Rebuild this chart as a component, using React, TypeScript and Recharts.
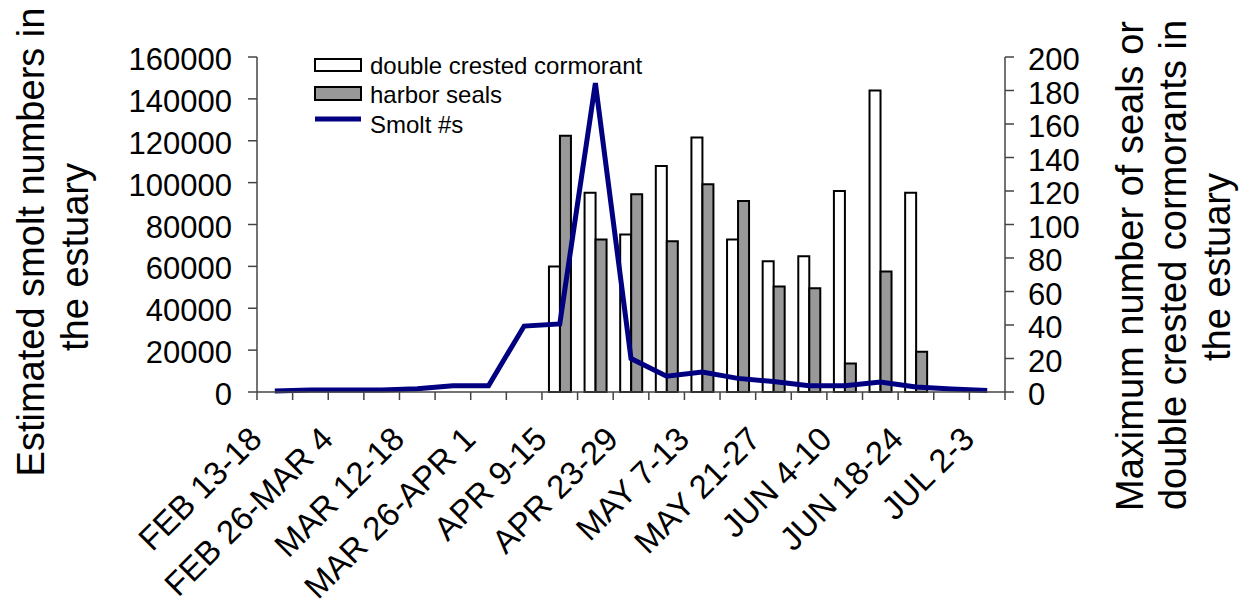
import React from 'react';
import { ComposedChart, Bar, Line, XAxis, YAxis, Legend } from 'recharts';

const WEEKS = [
  'FEB 13-18', 'FEB 19-25', 'FEB 26-MAR 4', 'MAR 5-11', 'MAR 12-18', 'MAR 19-25',
  'MAR 26-APR 1', 'APR 2-8', 'APR 9-15', 'APR 16-22', 'APR 23-29', 'APR 30-MAY 6',
  'MAY 7-13', 'MAY 14-20', 'MAY 21-27', 'MAY 28-JUN 3', 'JUN 4-10', 'JUN 11-17',
  'JUN 18-24', 'JUN 25-JUL 1', 'JUL 2-3',
];

// weekly estimate of smolts in the estuary (left axis)
const SMOLTS = [
  500, 1000, 1000, 1000, 1500, 3000, 3000, 31500, 32500, 147500, 16000,
  7500, 9500, 6500, 5000, 3000, 3000, 4800, 2400, 1400, 700,
];

// weekly maximum counts (right axis); no surveys before APR 9 or after JUN 24
const CORMORANTS = [
  null, null, null, null, null, null, null, null,
  75, 119, 94, 135, 152, 91, 78, 81, 120, 180, 119, null, null,
];
const SEALS = [
  null, null, null, null, null, null, null, null,
  153, 91, 118, 90, 124, 114, 63, 62, 17, 72, 24, null, null,
];

const SMOLT_TICKS = [0, 20000, 40000, 60000, 80000, 100000, 120000, 140000, 160000];
const COUNT_TICKS = [0, 20, 40, 60, 80, 100, 120, 140, 160, 180, 200];

const LEFT_TITLE = ['Estimated smolt numbers in', 'the estuary'];
const RIGHT_TITLE = ['Maximum number of seals or', 'double crested cormorants in', 'the estuary'];

const FONT = '"Liberation Sans", Arial, Helvetica, sans-serif';
const NAVY = '#000080';
const SEAL_GRAY = '#999999';
const AXIS = '#444444';

const data = WEEKS.map((week, i) => ({
  week,
  smolts: SMOLTS[i],
  cormorants: CORMORANTS[i],
  seals: SEALS[i],
}));

// boundary tick marks for every week, a slanted label on every other one
const WeekTick = (props: any) => {
  const { x, y, payload, index } = props;
  const half = payload?.offset ?? 748 / WEEKS.length / 2;
  const isLast = index === WEEKS.length - 1;
  const lx = x - 11;
  const ly = y + 41;
  return (
    <g>
      <line x1={x - half} x2={x - half} y1={y - 8} y2={y} stroke={AXIS} strokeWidth={1.5} />
      {isLast && (
        <line x1={x + half} x2={x + half} y1={y - 8} y2={y} stroke={AXIS} strokeWidth={1.5} />
      )}
      {index % 2 === 0 && (
        <text
          x={lx}
          y={ly}
          transform={`rotate(-45, ${lx}, ${ly})`}
          textAnchor="end"
          fontSize={33}
          fontFamily={FONT}
          fill="#000"
        >
          {payload.value}
        </text>
      )}
    </g>
  );
};

// rotated multi-line axis title; one baseline x per line
const AxisTitle = ({ lines, xs, ys }: { lines: string[]; xs: number[]; ys: number[] }) => (
  <g>
    {lines.map((t, i) => (
      <text
        key={t}
        x={xs[i]}
        y={ys[i]}
        transform={`rotate(-90, ${xs[i]}, ${ys[i]})`}
        textAnchor="middle"
        fontSize={38}
        fontFamily={FONT}
        fill="#000"
      >
        {t}
      </text>
    ))}
  </g>
);

const LegendBox = () => (
  <svg width={340} height={90} style={{ display: 'block', overflow: 'visible' }}>
    <g fontFamily={FONT} fontSize={24} fill="#000">
      <rect x={3} y={7} width={46} height={12} fill="#fff" stroke="#000" strokeWidth={2} />
      <text x={58} y={22}>double crested cormorant</text>
      <rect x={3} y={35} width={46} height={13} fill={SEAL_GRAY} stroke="#000" strokeWidth={2} />
      <text x={58} y={51}>harbor seals</text>
      <line x1={3} x2={49} y1={67} y2={67} stroke={NAVY} strokeWidth={5} />
      <text x={58} y={81}>Smolt #s</text>
    </g>
  </svg>
);

export default function App() {
  return (
    <div style={{ position: 'absolute', left: 0, top: 0, background: '#fff', fontFamily: FONT }}>
      <ComposedChart
        width={1252}
        height={603}
        data={data}
        barGap={0}
        margin={{ top: 57, right: 117, bottom: 181, left: 127 }}
      >
        <XAxis
          dataKey="week"
          height={30}
          interval={0}
          tickLine={false}
          tickSize={8}
          tickMargin={0}
          axisLine={{ stroke: AXIS, strokeWidth: 1.5 }}
          tick={<WeekTick />}
        />
        <YAxis
          yAxisId="smolt"
          orientation="left"
          width={130}
          domain={[0, 160000]}
          ticks={SMOLT_TICKS}
          interval={0}
          tickSize={9}
          tickMargin={16}
          axisLine={{ stroke: AXIS, strokeWidth: 1.5 }}
          tickLine={{ stroke: AXIS, strokeWidth: 1.5 }}
          tick={{ fill: '#000', fontSize: 31, fontFamily: FONT, dy: 2 }}
          label={<AxisTitle lines={LEFT_TITLE} xs={[44, 88]} ys={[242, 257]} />}
        />
        <YAxis
          yAxisId="count"
          orientation="right"
          width={130}
          domain={[0, 200]}
          ticks={COUNT_TICKS}
          interval={0}
          tickSize={9}
          tickMargin={14}
          axisLine={{ stroke: AXIS, strokeWidth: 1.5 }}
          tickLine={{ stroke: AXIS, strokeWidth: 1.5 }}
          tick={{ fill: '#000', fontSize: 31, fontFamily: FONT, dy: 2 }}
          label={<AxisTitle lines={RIGHT_TITLE} xs={[1143, 1186, 1230]} ys={[266, 265, 267]} />}
        />
        <Legend
          layout="vertical"
          align="center"
          verticalAlign="middle"
          content={<LegendBox />}
          wrapperStyle={{ left: 312, top: 52, width: 340, height: 90 }}
        />
        <Bar
          yAxisId="count"
          dataKey="cormorants"
          name="double crested cormorant"
          barSize={11}
          fill="#ffffff"
          stroke="#000"
          strokeWidth={2}
          isAnimationActive={false}
        />
        <Bar
          yAxisId="count"
          dataKey="seals"
          name="harbor seals"
          barSize={11}
          fill={SEAL_GRAY}
          stroke="#000"
          strokeWidth={2}
          isAnimationActive={false}
        />
        <Line
          yAxisId="smolt"
          dataKey="smolts"
          name="Smolt #s"
          type="linear"
          stroke={NAVY}
          strokeWidth={5}
          dot={false}
          activeDot={false}
          isAnimationActive={false}
        />
      </ComposedChart>
    </div>
  );
}
